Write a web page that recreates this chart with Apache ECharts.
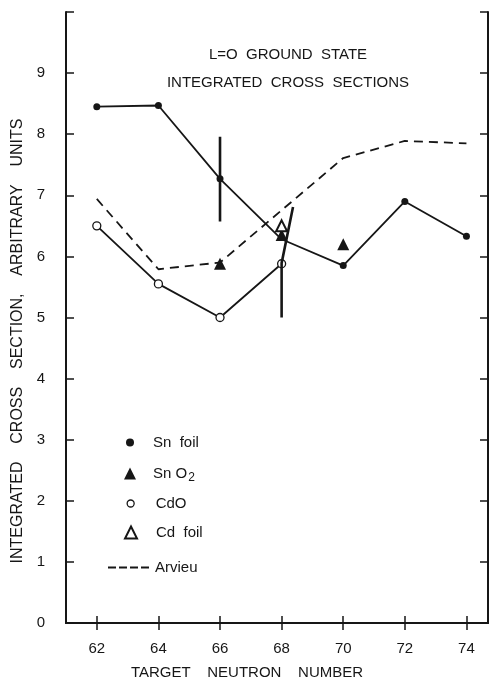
<!DOCTYPE html>
<html lang="en">
<head>
    <meta charset="UTF-8">
    <title>L=O Ground State Integrated Cross Sections</title>
    <script src="https://cdn.jsdelivr.net/npm/echarts@6.0.0/dist/echarts.min.js"></script>
    <style>
        body {
            margin: 0;
            background: #fff;
        }
        #chart {
            width: 496px;
            height: 681px;
        }
    </style>
</head>
<body>
    <div id="chart"></div>

    <script>
        // values
        var neutronTicks = [62, 64, 66, 68, 70, 72, 74];
        var snFoil = [[62, 8.45], [64, 8.47], [66, 7.27], [68, 6.28], [70, 5.85], [72, 6.9], [74, 6.33]];
        var cdO = [[62, 6.5], [64, 5.55], [66, 5.0], [68, 5.88]];
        var arvieu = [[62, 6.94], [64, 5.79], [66, 5.9], [70, 7.61], [72, 7.89], [74, 7.85]];
        var snO2 = [[66, 5.88], [68, 6.35], [70, 6.2]];
        var cdFoil = [[68, 6.5]];
        var errBar66 = [[66, 7.96], [66, 6.57]];
        var errBar68 = [[68.37, 6.81], [68.0, 5.89], [68.0, 5.0]];

        var ink = '#161616';
        var font = 'Liberation Sans';

        var chart = echarts.init(document.getElementById('chart'));

        // one small legend per entry so each row sits where the figure has it
        function legendBox(name, icon, iconStyle, size, top, pad) {
            return {
                data: [{ name: name, icon: icon, itemStyle: iconStyle }],
                left: 125 - size / 2,
                top: top,
                itemWidth: size,
                itemHeight: size,
                selectedMode: false,
                textStyle: {
                    color: ink, fontFamily: font, fontSize: 15,
                    padding: [0, 0, 0, pad],
                    rich: { sub: { fontSize: 12, padding: [9, 0, 0, 1], color: ink, fontFamily: font } }
                },
                formatter: function (n) {
                    if (n === 'SnO2') return 'Sn O{sub|2}';
                    return n.replace(' ', '  ');
                }
            };
        }

        var option = {
            backgroundColor: '#fff',
            animation: false,
            title: [{
                text: 'L=O  GROUND  STATE\nINTEGRATED  CROSS  SECTIONS',
                left: 283,
                top: 36,
                textAlign: 'center',
                textStyle: { color: ink, fontFamily: font, fontSize: 15, fontWeight: 'normal', lineHeight: 28 }
            }, {
                text: 'TARGET    NEUTRON    NUMBER',
                left: 242,
                top: 660,
                textAlign: 'center',
                textStyle: { color: ink, fontFamily: font, fontSize: 15, fontWeight: 'normal' }
            }],
            graphic: [{
                type: 'text',
                x: 18,
                y: 341,
                rotation: Math.PI / 2,
                style: {
                    text: 'INTEGRATED    CROSS    SECTION,    ARBITRARY    UNITS',
                    fill: ink,
                    font: '16px "Liberation Sans"',
                    textAlign: 'center',
                    textVerticalAlign: 'middle'
                }
            }],
            legend: [
                legendBox('Sn foil', 'circle', { color: ink }, 8, 430, 14),
                legendBox('SnO2', 'triangle', { color: ink, opacity: 1 }, 12, 461, 12),
                legendBox('CdO', 'circle', { color: '#fff', borderColor: ink, borderWidth: 1.3 }, 7, 491, 16.5),
                legendBox('Cd foil', 'triangle', { color: '#fff', borderColor: ink, borderWidth: 2 }, 12, 520, 14),
                {
                    data: [{ name: 'Arvieu', icon: 'path://M0 0h8v2h-8z M11 0h8v2h-8z M22 0h8v2h-8z M33 0h8v2h-8z' }],
                    left: 103,
                    top: 555,
                    itemWidth: 41,
                    itemHeight: 2,
                    symbolKeepAspect: false,
                    selectedMode: false,
                    itemStyle: { color: ink },
                    textStyle: { color: ink, fontFamily: font, fontSize: 15, padding: [0, 0, 0, 1] }
                }
            ],
            grid: { left: 66, right: 8, top: 12, bottom: 58 },
            xAxis: [{
                type: 'value',
                min: 61,
                max: 74.7,
                position: 'bottom',
                splitLine: { show: false },
                axisLine: { lineStyle: { color: ink, width: 2 } },
                axisTick: { inside: true, length: 7, customValues: neutronTicks, lineStyle: { color: ink, width: 1.5 } },
                axisLabel: { customValues: neutronTicks, margin: 18, color: ink, fontFamily: font, fontSize: 15 }
            }, {
                type: 'value',
                min: 61,
                max: 74.7,
                position: 'top',
                splitLine: { show: false },
                axisLine: { show: true, lineStyle: { color: ink, width: 2 } },
                axisTick: { inside: true, length: 7, customValues: neutronTicks, lineStyle: { color: ink, width: 1.5 } },
                axisLabel: { show: false }
            }],
            yAxis: [{
                type: 'value',
                min: 0,
                max: 10,
                interval: 1,
                position: 'left',
                splitLine: { show: false },
                axisLine: { show: true, lineStyle: { color: ink, width: 2 } },
                axisTick: { inside: true, length: 8, lineStyle: { color: ink, width: 1.5 } },
                axisLabel: {
                    margin: 21, color: ink, fontFamily: font, fontSize: 15,
                    formatter: function (v) { return v === 10 ? '' : String(v); }
                }
            }, {
                type: 'value',
                min: 0,
                max: 10,
                interval: 1,
                position: 'right',
                splitLine: { show: false },
                axisLine: { show: true, lineStyle: { color: ink, width: 2 } },
                axisTick: { inside: true, length: 8, lineStyle: { color: ink, width: 1.5 } },
                axisLabel: { show: false }
            }],
            series: [{
                name: 'Arvieu',
                type: 'line',
                data: arvieu,
                symbol: 'none',
                lineStyle: { color: ink, width: 1.8, type: [9, 6] },
                itemStyle: { color: ink },
                z: 2
            }, {
                name: 'Sn foil',
                type: 'line',
                data: snFoil.map(function (p) {
                    return p[0] === 68 ? { value: p, symbol: 'none' } : p;
                }),
                symbol: 'circle',
                symbolSize: 7,
                lineStyle: { color: ink, width: 1.8 },
                itemStyle: { color: ink },
                z: 3
            }, {
                name: 'CdO',
                type: 'line',
                data: cdO,
                symbol: 'circle',
                symbolSize: 8,
                lineStyle: { color: ink, width: 1.8 },
                itemStyle: { color: '#fff', borderColor: ink, borderWidth: 1.3 },
                z: 3
            }, {
                name: 'SnO2',
                type: 'scatter',
                data: snO2,
                symbol: 'triangle',
                symbolSize: 12,
                itemStyle: { color: ink, opacity: 1 },
                z: 4
            }, {
                name: 'Cd foil',
                type: 'scatter',
                data: cdFoil,
                symbol: 'triangle',
                symbolSize: 11,
                itemStyle: { color: '#fff', borderColor: ink, borderWidth: 2, opacity: 1 },
                z: 4
            }, {
                name: 'err66',
                type: 'line',
                data: errBar66,
                symbol: 'none',
                lineStyle: { color: ink, width: 2.6 },
                z: 5
            }, {
                name: 'err68',
                type: 'line',
                data: errBar68,
                symbol: 'none',
                lineStyle: { color: ink, width: 2.6 },
                z: 5
            }]
        };

        chart.setOption(option);
    </script>
</body>
</html>
